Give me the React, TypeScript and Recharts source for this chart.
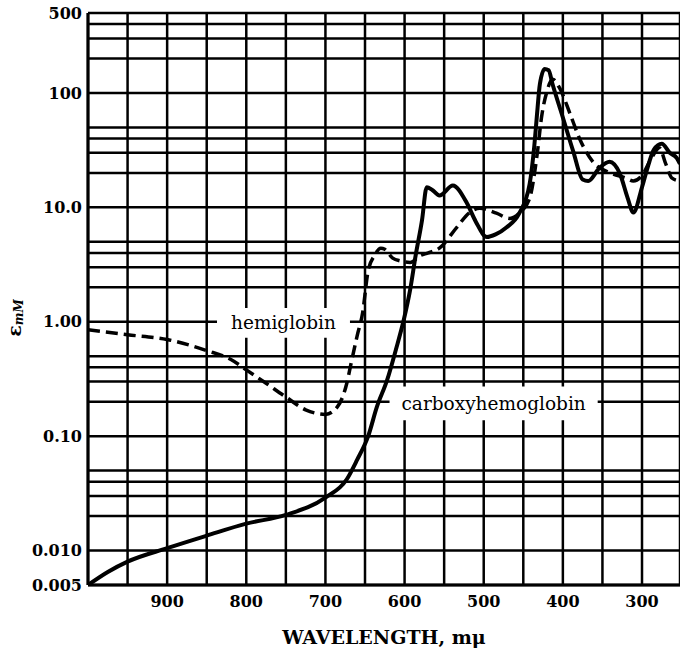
import { CartesianGrid, Label, Line, LineChart, ReferenceArea, XAxis, YAxis } from 'recharts'

// carboxyhemoglobin (solid) — wavelength in mμ, εmM
const coWavelengths = [
  1000, 975, 950, 900, 850, 800, 750, 700, 673, 660, 646, 635, 622, 611, 601, 593, 586, 578,
  572, 565, 556, 539, 521, 510, 496, 485, 471, 455, 442, 436, 433, 429, 423, 418, 413, 400,
  387, 375, 368, 354, 341, 328, 318, 311, 300, 294, 285, 275, 265, 256, 252,
]
const coValues = [
  0.005, 0.0065, 0.008, 0.0105, 0.0135, 0.0172, 0.0205, 0.029, 0.042, 0.062, 0.1, 0.18, 0.31,
  0.57, 1.04, 1.9, 3.8, 7.7, 15, 14.2, 12.7, 15.5, 10.8, 7.5, 5.5, 5.8, 6.7, 8.9, 16, 35, 61,
  120, 162, 158, 119, 61, 31, 17.5, 17, 22, 25, 19.7, 12, 9, 15, 21, 32, 36, 30, 27, 24,
]

// hemiglobin (dashed)
const hiWavelengths = [
  1000, 950, 900, 850, 820, 800, 775, 750, 725, 700, 685, 673, 668, 660, 653, 646, 638, 630,
  625, 615, 605, 593, 580, 570, 556, 534, 518, 505, 484, 467, 455, 442, 432, 427, 420, 413,
  404, 391, 379, 362, 340, 320, 311, 300, 288, 278, 270, 262, 252,
]
const hiValues = [
  0.85, 0.77, 0.7, 0.56, 0.47, 0.38, 0.29, 0.22, 0.17, 0.155, 0.18, 0.29, 0.42, 0.75, 1.2, 2.8,
  3.8, 4.4, 4.3, 3.6, 3.4, 3.3, 3.8, 4.0, 4.4, 6.7, 9.0, 9.8, 8.9, 8.0, 8.9, 12, 31, 61, 104,
  132, 110, 66, 40, 25, 20, 18, 17, 19, 27, 33, 24, 18, 17,
]

const xTicks = [1000, 950, 900, 850, 800, 750, 700, 650, 600, 550, 500, 450, 400, 350, 300]
const xTickLabels = ['900', '800', '700', '600', '500', '400', '300']

const yTicks = [
  0.005, 0.01, 0.02, 0.03, 0.04, 0.05, 0.1, 0.2, 0.3, 0.4, 0.5, 1, 2, 3, 4, 5, 10, 20, 30, 40,
  50, 100, 200, 300, 400, 500,
]
const yTickLabels: Record<string, string> = {
  '0.005': '0.005',
  '0.01': '0.010',
  '0.1': '0.10',
  '1': '1.00',
  '10': '10.0',
  '100': '100',
  '500': '500',
}

const coData = coWavelengths.map((w, i) => ({ w, v: coValues[i] }))
const hiData = hiWavelengths.map((w, i) => ({ w, v: hiValues[i] }))

const FONT = '"DejaVu Serif", "Liberation Serif", serif'
const tickStyle = { fill: '#000', fontSize: 16, fontWeight: 700, fontFamily: FONT }
const curveLabel = { fill: '#000', fontSize: 18.5, fontFamily: FONT }

function YTitle(props: any) {
  const vb = props.viewBox || { x: 0, y: 0, height: 0 }
  const cx = 14
  const cy = vb.y + vb.height / 2 + 19
  return (
    <text
      transform={`rotate(-90, ${cx}, ${cy})`}
      x={cx}
      y={cy}
      textAnchor="middle"
      dominantBaseline="central"
      fontFamily={FONT}
      fill="#000"
    >
      <tspan fontSize={19} fontWeight={700}>ε</tspan>
      <tspan fontSize={12} fontStyle="italic" fontWeight={700} dy={5}>mM</tspan>
    </text>
  )
}

export default function App() {
  return (
    <div style={{ position: 'absolute', left: 0, top: 0, width: 680, height: 651, background: '#fff' }}>
      <LineChart width={680} height={651} margin={{ top: 13, right: 0, bottom: 0, left: 0 }}>
        <CartesianGrid stroke="#000" strokeWidth={2.5} />
        <XAxis
          type="number"
          dataKey="w"
          domain={[252, 1000]}
          reversed
          allowDataOverflow
          ticks={xTicks}
          interval={0}
          tickFormatter={(v: number) => (xTickLabels.includes(String(v)) ? String(v) : '')}
          height={66}
          tickLine={false}
          tickSize={0}
          tickMargin={11}
          axisLine={{ stroke: '#000', strokeWidth: 3 }}
          tick={tickStyle}
        >
          <Label
            value="WAVELENGTH, mμ"
            position="insideBottom"
            offset={7}
            style={{ fill: '#000', fontSize: 19, fontWeight: 700, fontFamily: FONT }}
          />
        </XAxis>
        <YAxis
          type="number"
          scale="log"
          domain={[0.005, 500]}
          allowDataOverflow
          ticks={yTicks}
          interval={0}
          tickFormatter={(v: number) => yTickLabels[String(v)] ?? ''}
          width={88}
          tickLine={false}
          tickSize={0}
          tickMargin={6}
          axisLine={{ stroke: '#000', strokeWidth: 3 }}
          tick={tickStyle}
        >
          <Label content={<YTitle />} />
        </YAxis>
        <ReferenceArea
          x1={837}
          x2={669}
          y1={0.726}
          y2={1.32}
          fill="#fff"
          fillOpacity={1}
          stroke="none"
          label={{ value: 'hemiglobin', position: 'center', ...curveLabel }}
        />
        <ReferenceArea
          x1={619}
          x2={356}
          y1={0.138}
          y2={0.272}
          fill="#fff"
          fillOpacity={1}
          stroke="none"
          label={{ value: 'carboxyhemoglobin', position: 'center', ...curveLabel }}
        />
        <Line
          data={hiData}
          dataKey="v"
          type="monotone"
          stroke="#000"
          strokeWidth={3.5}
          strokeDasharray="12 6"
          dot={false}
          isAnimationActive={false}
        />
        <Line
          data={coData}
          dataKey="v"
          type="monotone"
          stroke="#000"
          strokeWidth={4}
          dot={false}
          isAnimationActive={false}
        />
      </LineChart>
    </div>
  )
}
